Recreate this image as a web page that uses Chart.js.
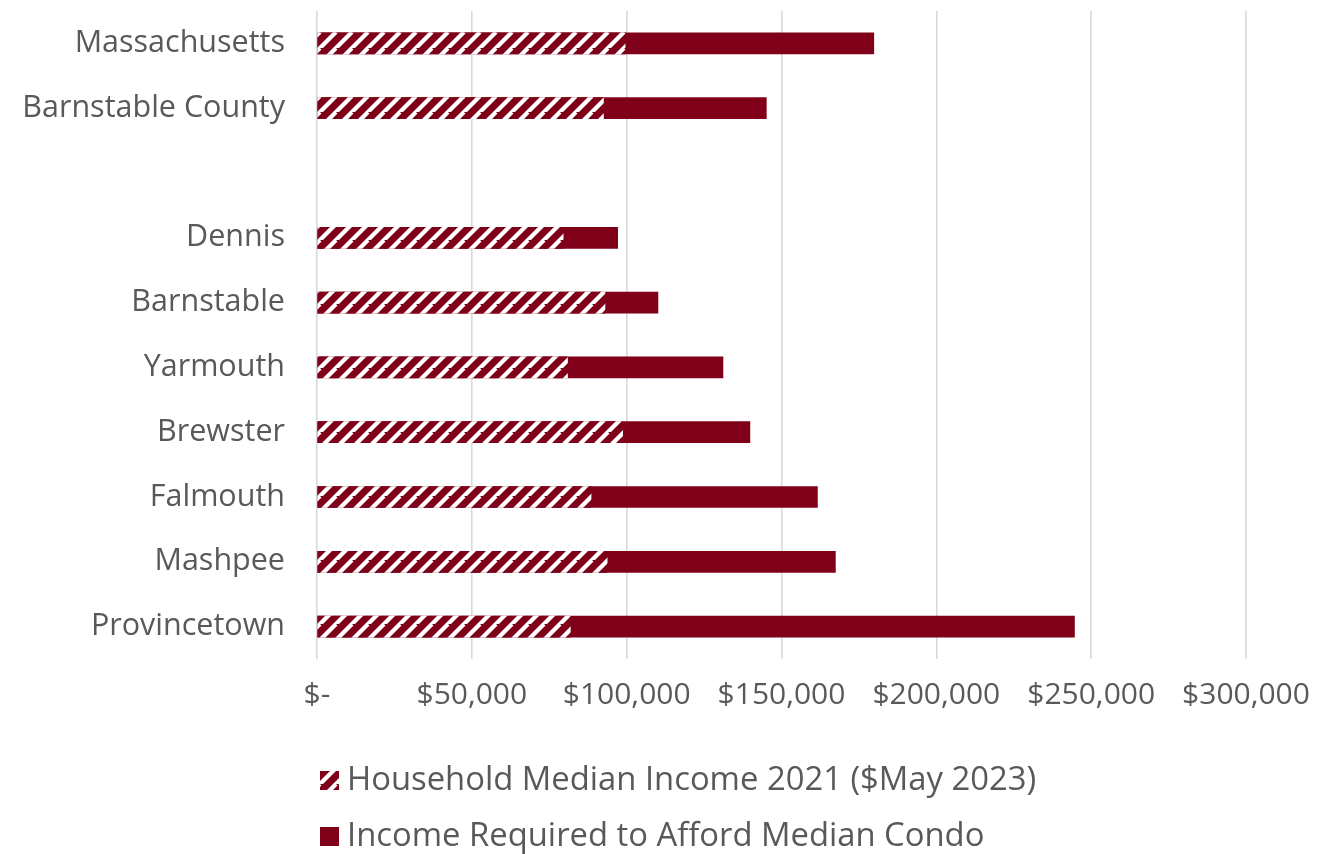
<!DOCTYPE html>
<html>
<head>
<meta charset="utf-8">
<script src="https://cdn.jsdelivr.net/npm/chart.js@4.4.1/dist/chart.umd.min.js"></script>
<style>
  html, body { margin: 0; padding: 0; background: #fff; }
  #wrap { width: 1325px; height: 854px; position: relative; }
</style>
</head>
<body>
<div id="wrap"><canvas id="chart"></canvas></div>
<script>
const places = ['Massachusetts', 'Barnstable County', '', 'Dennis', 'Barnstable', 'Yarmouth', 'Brewster', 'Falmouth', 'Mashpee', 'Provincetown']
const medianIncome = [99500, 92500, null, 79500, 93000, 80900, 98700, 88500, 93700, 81800]
const requiredIncome = [179800, 145100, null, 97100, 110100, 131100, 139800, 161600, 167400, 244600]
const xTicks = [0, 50000, 100000, 150000, 200000, 250000, 300000]
const legendLabels = ['Household Median Income 2021 ($May 2023)', 'Income Required to Afford Median Condo']

const RED = '#7f0018'
const GREY = '#595959'
const FONT = "'Open Sans', sans-serif"

// diagonal hatch like the office "wide upward diagonal" fill
function makeHatch() {
    const c = document.createElement('canvas')
    c.width = 16
    c.height = 16
    const g = c.getContext('2d')
    g.fillStyle = RED
    g.fillRect(0, 0, 16, 16)
    g.strokeStyle = '#fff'
    g.lineWidth = 4.2
    for (let k = -16; k <= 32; k += 16) {
        g.beginPath()
        g.moveTo(k - 16, 32)
        g.lineTo(k + 16, 0)
        g.stroke()
    }
    return g.createPattern(c, 'repeat')
}
const hatch = makeHatch()

function money(v) {
    if (v === 0) return '$-'
    return '$' + v.toLocaleString('en-US')
}

const legendPlugin = {
    id: 'stackedLegend',
    afterDraw(chart) {
        const ctx = chart.ctx
        const rows = [{ y: 780, fill: hatch }, { y: 836, fill: RED }]
        ctx.save()
        ctx.font = '32.8px ' + FONT
        ctx.textBaseline = 'middle'
        rows.forEach((r, i) => {
            ctx.fillStyle = r.fill
            ctx.fillRect(320, r.y - 9, 19, 19)
            ctx.fillStyle = GREY
            ctx.fillText(legendLabels[i], 347, r.y + 1)
        })
        ctx.restore()
    }
}

new Chart(document.getElementById('chart'), {
    type: 'bar',
    data: {
        labels: places,
        datasets: [
            {
                label: legendLabels[0],
                data: medianIncome,
                backgroundColor: hatch,
                grouped: false,
                barThickness: 21,
                order: 0
            },
            {
                label: legendLabels[1],
                data: requiredIncome,
                backgroundColor: RED,
                grouped: false,
                barThickness: 21,
                order: 1
            }
        ]
    },
    options: {
        indexAxis: 'y',
        responsive: true,
        maintainAspectRatio: false,
        animation: false,
        layout: { padding: { top: 11, right: 79, bottom: 0, left: 0 } },
        plugins: {
            legend: { display: false },
            tooltip: { enabled: false }
        },
        scales: {
            x: {
                min: 0,
                max: 300000,
                afterBuildTicks: (scale) => { scale.ticks = xTicks.map(v => ({ value: v })) },
                afterFit: (scale) => {
                    scale.height = 195
                    scale.paddingLeft = 0
                    scale.paddingRight = 0
                },
                grid: { color: '#d9d9d9', lineWidth: 1.6, drawTicks: false },
                border: { display: false },
                ticks: {
                    callback: (v) => money(v),
                    color: GREY,
                    font: { family: FONT, size: 30 },
                    padding: 18,
                    maxRotation: 0
                }
            },
            y: {
                afterFit: (scale) => {
                    scale.width = 317
                    scale.paddingTop = 0
                    scale.paddingBottom = 0
                },
                grid: { display: false, drawTicks: false },
                border: { display: false },
                ticks: {
                    color: GREY,
                    font: { family: FONT, size: 30.5 },
                    padding: 32
                }
            }
        }
    },
    plugins: [legendPlugin]
})
</script>
</body>
</html>
